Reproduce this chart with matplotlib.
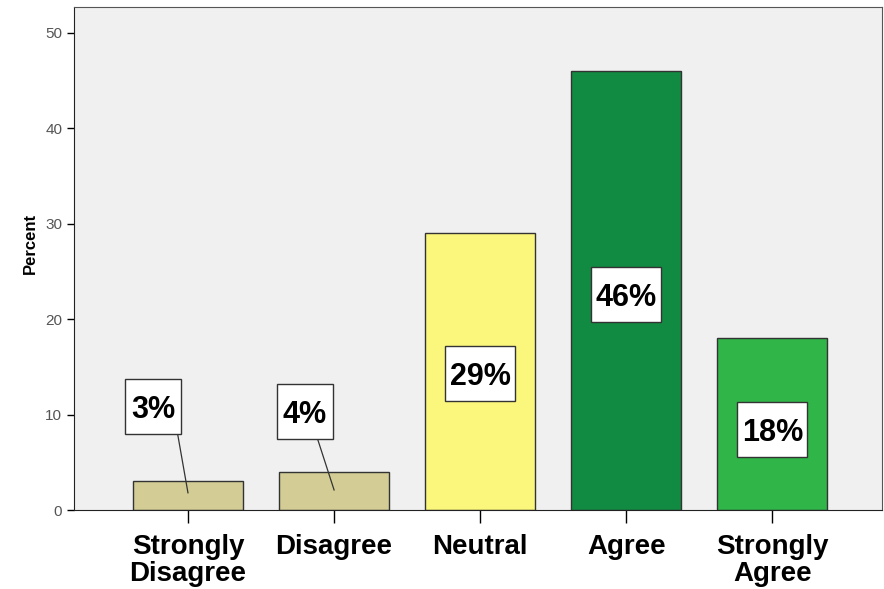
import numpy as np
import matplotlib.pyplot as plt
from matplotlib.patches import Rectangle

categories = ['Strongly\nDisagree', 'Disagree', 'Neutral', 'Agree', 'Strongly\nAgree']
percent = [3, 4, 29, 46, 18]
labels = ['3%', '4%', '29%', '46%', '18%']
colors = ['#d3cd95', '#d3cd95', '#fbf77c', '#128b42', '#30b548']
# label positions (data units); first two are pulled out with a leader line
label_y = [10.8, 10.3, 14.3, 22.6, 8.4]
label_dx = [-0.24, -0.2, 0, 0, 0]
line_start = [(-0.07, 7.9), (-0.11, 7.3), None, None, None]
line_end = [1.8, 2.1, None, None, None]

plt.rcParams['font.family'] = ['Liberation Sans', 'DejaVu Sans']

fig = plt.figure(figsize=(8.84, 5.89), dpi=100)
ax = fig.add_axes([74 / 884, 1 - 510 / 589, 808 / 884, 503 / 589])
ax.set_facecolor('#f0f0f0')

x = np.arange(len(categories))
ax.bar(x, percent, width=0.753, color=colors, edgecolor='#333333', linewidth=1, zorder=2)

# box sizes in data units (about 56/70 px wide, 55 px tall)
box_h = 5.75
for i in range(len(x)):
    tx = x[i] + label_dx[i]
    if line_start[i] is not None:
        ax.plot([x[i] + line_start[i][0], x[i]], [line_start[i][1], line_end[i]],
                color='#333333', lw=0.9, zorder=3)
    box_w = 0.385 if len(labels[i]) == 2 else 0.48
    ax.add_patch(Rectangle((tx - box_w / 2, label_y[i] - box_h / 2), box_w, box_h,
                           facecolor='white', edgecolor='#333333', lw=1, zorder=4))
    ax.text(tx, label_y[i], labels[i], ha='center', va='center_baseline', fontsize=22,
            fontweight='bold', zorder=5)

ax.set_xlim(-0.78, 4.75)
ax.set_ylim(0, 52.7)
ax.set_yticks([0, 10, 20, 30, 40, 50])
ax.set_xticks(x)
ax.set_xticklabels(categories, fontsize=20, fontweight='bold', linespacing=1.08)
ax.tick_params(axis='y', labelsize=11, labelcolor='#555555', length=5, width=1)
ax.tick_params(axis='x', length=9, width=1, pad=8)
ax.set_ylabel('Percent', fontsize=12, fontweight='bold')
ax.yaxis.set_label_coords(-0.045, 0.53)

for s in ['top', 'right']:
    ax.spines[s].set_color('#555555')
for s in ['left', 'bottom']:
    ax.spines[s].set_color('#222222')

fig.savefig('out.png', dpi=100)
